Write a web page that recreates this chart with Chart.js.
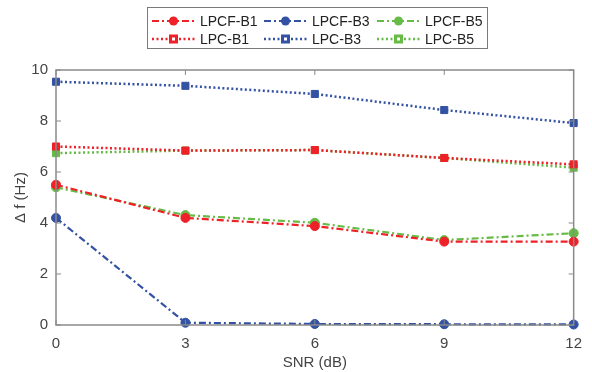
<!DOCTYPE html>
<html lang="en">
<head>
<meta charset="UTF-8" />
<title>Δf vs SNR</title>
<script src="https://cdn.jsdelivr.net/npm/chart.js@4"></script>
<style>
  body { margin: 0; background: #fff; }
  #wrap { width: 592px; height: 372px; }
</style>
</head>
<body>
<div id="wrap"><canvas id="myChart"></canvas></div>
<script>
// SNR in dB along x, frequency error in Hz along y
const snr = [0, 3, 6, 9, 12];
const lpcfB1 = [5.5, 4.2, 3.88, 3.27, 3.27];
const lpcfB3 = [4.2, 0.09, 0.04, 0.03, 0.02];
const lpcfB5 = [5.4, 4.31, 4.01, 3.33, 3.6];
const lpcB1 = [7.0, 6.84, 6.86, 6.55, 6.3];
const lpcB3 = [9.54, 9.38, 9.06, 8.43, 7.92];
const lpcB5 = [6.74, 6.84, 6.86, 6.55, 6.17];
const xTicks = [0, 3, 6, 9, 12];
const yTicks = [0, 2, 4, 6, 8, 10];

const RED = "#ee2028";
const BLUE = "#3352a3";
const GREEN = "#66bb46";
const AXIS = "#8a8a8a";
const FONT = "'Liberation Sans', Arial, sans-serif";

function pts(vals) {
  return vals.map((v, i) => ({ x: snr[i], y: v }));
}

function series(label, vals, color, dotted) {
  return {
    label: label,
    data: pts(vals),
    borderColor: color,
    backgroundColor: color,
    pointBackgroundColor: color,
    pointBorderColor: color,
    borderWidth: dotted ? 2.5 : 2.2,
    borderDash: dotted ? [2, 2.5] : [7, 3, 2, 3],
    pointStyle: dotted ? "rect" : "circle",
    pointRadius: dotted ? 5 : 4.5,
    pointBorderWidth: 1,
    tension: 0,
    clip: false,
  };
}

// axis box with inward tick marks on every side
const frame = {
  id: "frame",
  afterDraw(chart) {
    const { ctx, chartArea: a, scales } = chart;
    ctx.save();
    ctx.strokeStyle = AXIS;
    ctx.lineWidth = 1.5;
    ctx.setLineDash([]);
    ctx.strokeRect(a.left, a.top, a.right - a.left, a.bottom - a.top);
    ctx.lineWidth = 1;
    ctx.beginPath();
    xTicks.forEach((t) => {
      const x = scales.x.getPixelForValue(t);
      ctx.moveTo(x, a.bottom); ctx.lineTo(x, a.bottom - 5);
      ctx.moveTo(x, a.top); ctx.lineTo(x, a.top + 5);
    });
    yTicks.forEach((t) => {
      const y = scales.y.getPixelForValue(t);
      ctx.moveTo(a.left, y); ctx.lineTo(a.left + 5, y);
      ctx.moveTo(a.right, y); ctx.lineTo(a.right - 5, y);
    });
    ctx.stroke();
    ctx.restore();
  },
};

// legend drawn as line + marker samples in a boxed 3x2 grid
const legendBox = {
  id: "legendBox",
  afterDraw(chart) {
    const ctx = chart.ctx;
    ctx.save();
    ctx.strokeStyle = "#7a7a7a";
    ctx.lineWidth = 1;
    ctx.setLineDash([]);
    ctx.strokeRect(147.5, 7.5, 340, 41);
    const cols = [152, 264, 377];
    const rows = [21, 39];
    ctx.font = "14px " + FONT;
    ctx.textBaseline = "middle";
    chart.data.datasets.forEach((ds, i) => {
      const x = cols[i % 3];
      const y = rows[Math.floor(i / 3)];
      ctx.strokeStyle = ds.borderColor;
      ctx.lineWidth = ds.borderWidth;
      ctx.setLineDash(ds.borderDash);
      ctx.beginPath();
      ctx.moveTo(x, y);
      ctx.lineTo(x + 43, y);
      ctx.stroke();
      ctx.setLineDash([]);
      ctx.fillStyle = ds.pointBackgroundColor;
      const cx = x + 21.5;
      if (ds.pointStyle === "circle") {
        ctx.beginPath();
        ctx.arc(cx, y, 4.5, 0, Math.PI * 2);
        ctx.fill();
      } else {
        ctx.fillRect(cx - 4.5, y - 4.5, 9, 9);
        ctx.fillStyle = "#fff";
        ctx.fillRect(cx - 1.5, y - 1.5, 3, 3);
      }
      ctx.fillStyle = "#222";
      ctx.fillText(ds.label, x + 48, y + 1);
    });
    ctx.restore();
  },
};

new Chart(document.getElementById("myChart"), {
  type: "line",
  data: {
    datasets: [
      series("LPCF-B1", lpcfB1, RED, false),
      series("LPCF-B3", lpcfB3, BLUE, false),
      series("LPCF-B5", lpcfB5, GREEN, false),
      series("LPC-B1", lpcB1, RED, true),
      series("LPC-B3", lpcB3, BLUE, true),
      series("LPC-B5", lpcB5, GREEN, true),
    ],
  },
  options: {
    responsive: true,
    maintainAspectRatio: false,
    animation: false,
    layout: { padding: { top: 70, right: 17, left: 0, bottom: 0 } },
    plugins: {
      legend: { display: false },
      tooltip: { enabled: false },
    },
    scales: {
      x: {
        type: "linear",
        min: 0,
        max: 12,
        afterBuildTicks: (s) => { s.ticks = xTicks.map((v) => ({ value: v })); },
        afterFit: (s) => { s.height = 47; },
        grid: { display: false, drawTicks: false },
        border: { display: false },
        ticks: { color: "#444", font: { size: 15, family: FONT }, padding: 10 },
        title: { display: true, text: "SNR (dB)", color: "#444", font: { size: 15, family: FONT }, padding: { top: 2, bottom: 0 } },
      },
      y: {
        min: 0,
        max: 10,
        afterBuildTicks: (s) => { s.ticks = yTicks.map((v) => ({ value: v })); },
        afterFit: (s) => { s.width = 56; },
        grid: { display: false, drawTicks: false },
        border: { display: false },
        ticks: { color: "#444", font: { size: 15, family: FONT }, padding: 8 },
        title: { display: true, text: "Δ f (Hz)", color: "#444", font: { size: 15, family: FONT }, padding: { top: 12, bottom: 0 } },
      },
    },
  },
  plugins: [frame, legendBox],
});
</script>
</body>
</html>
